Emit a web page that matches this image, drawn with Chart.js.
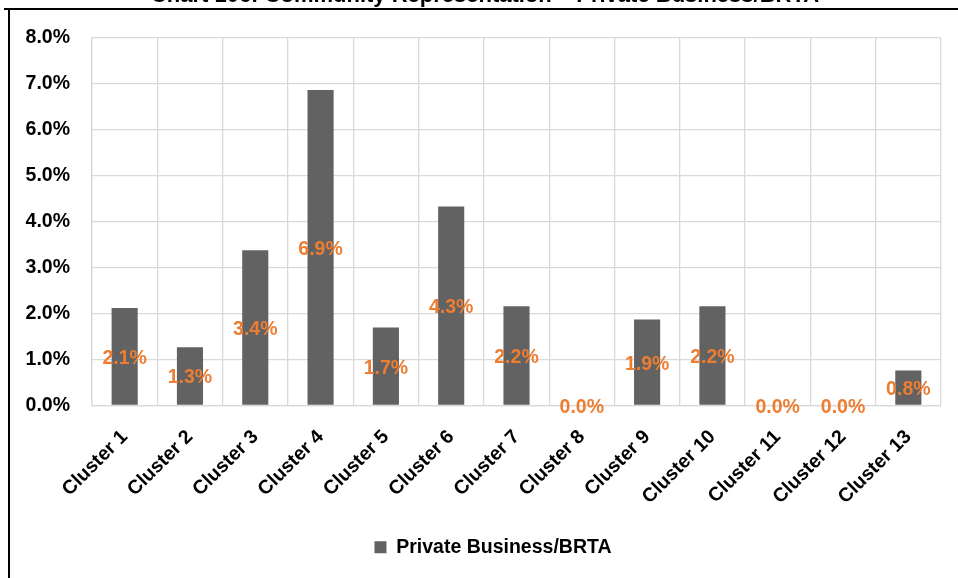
<!DOCTYPE html>
<html>
<head>
<meta charset="utf-8">
<script src="https://cdn.jsdelivr.net/npm/chart.js@4/dist/chart.umd.min.js"></script>
<style>
  html, body { margin: 0; padding: 0; background: #fff; }
  #wrap { position: relative; width: 958px; height: 578px; overflow: hidden; background: #fff; }
  #c { position: absolute; left: 0; top: -17px; }
</style>
</head>
<body>
<div id="wrap"><canvas id="c" width="958" height="595"></canvas></div>
<script>
const titleText = 'Chart 106: Community Representation \u2013 Private Business/BRTA';
const categories = ['Cluster 1','Cluster 2','Cluster 3','Cluster 4','Cluster 5','Cluster 6','Cluster 7','Cluster 8','Cluster 9','Cluster 10','Cluster 11','Cluster 12','Cluster 13'];
const seriesName = 'Private Business/BRTA';
const seriesValues = [2.12, 1.27, 3.38, 6.87, 1.70, 4.33, 2.16, 0, 1.87, 2.16, 0, 0, 0.76];
const yTicks = [0, 1, 2, 3, 4, 5, 6, 7, 8];

const FONT = '"Liberation Sans", Arial, sans-serif';
const OFFSET = 17;

const frame = {
  id: 'frame',
  afterLayout(chart) {
    const lg = chart.legend;
    if (lg) { lg.left += 12.5; lg.right += 12.5; }
    const tt = chart.titleBlock;
    if (tt) { tt.left += 4.5; tt.right += 4.5; }
  },
  afterDraw(chart) {
    const ctx = chart.ctx;
    ctx.save();
    ctx.strokeStyle = '#000';
    ctx.lineWidth = 2;
    ctx.beginPath();
    ctx.moveTo(4, 9 + OFFSET);
    ctx.lineTo(958, 9 + OFFSET);
    ctx.moveTo(9, 9 + OFFSET);
    ctx.lineTo(9, 595);
    ctx.stroke();
    ctx.restore();
  }
};

const valueLabels = {
  id: 'valueLabels',
  afterDatasetsDraw(chart) {
    const ctx = chart.ctx;
    ctx.save();
    ctx.font = 'bold 19.5px ' + FONT;
    ctx.fillStyle = '#ED7D31';
    ctx.textAlign = 'center';
    ctx.textBaseline = 'middle';
    chart.data.datasets.forEach((ds, di) => {
      chart.getDatasetMeta(di).data.forEach((bar, i) => {
        const v = ds.data[i];
        const y = (bar.y + bar.base) / 2 + 2;
        ctx.fillText(v.toFixed(1) + '%', bar.x, y);
      });
    });
    ctx.restore();
  }
};

new Chart(document.getElementById('c'), {
  type: 'bar',
  data: {
    labels: categories,
    datasets: [{
      label: seriesName,
      data: seriesValues,
      backgroundColor: '#626262',
      borderWidth: 0,
      barPercentage: 0.4,
      categoryPercentage: 1.0
    }]
  },
  options: {
    responsive: false,
    animation: false,
    layout: { padding: { left: 20, right: 17, top: 0, bottom: 11 } },
    plugins: {
      title: {
        display: true,
        text: titleText,
        color: '#000',
        font: { family: FONT, size: 22, weight: 'bold' },
        padding: { top: 0, bottom: 28.6 }
      },
      legend: {
        position: 'bottom',
        labels: {
          color: '#000',
          font: { family: FONT, size: 19.5, weight: 'bold' },
          boxWidth: 12,
          boxHeight: 12,
          padding: 10
        }
      },
      tooltip: { enabled: false }
    },
    scales: {
      x: {
        grid: { display: true, offset: true, color: '#d9d9d9', lineWidth: 1.3, drawTicks: false },
        border: { display: true, color: '#d9d9d9', width: 1.3 },
        ticks: {
          color: '#000',
          font: { family: FONT, size: 19.5, weight: 'bold' },
          minRotation: 45,
          maxRotation: 45,
          autoSkip: false,
          padding: 20
        },
        afterFit(scale) { scale.height = 122; }
      },
      y: {
        min: 0,
        max: 8,
        afterBuildTicks(scale) { scale.ticks = yTicks.map(v => ({ value: v })); },
        grid: { color: '#d9d9d9', lineWidth: 1.3, drawTicks: false },
        border: { display: true, color: '#d9d9d9', width: 1.3 },
        ticks: {
          color: '#000',
          font: { family: FONT, size: 19.5, weight: 'bold' },
          padding: 22,
          callback: v => Number(v).toFixed(1) + '%'
        },
        afterFit(scale) { scale.width = 72; }
      }
    }
  },
  plugins: [frame, valueLabels]
});
</script>
</body>
</html>
